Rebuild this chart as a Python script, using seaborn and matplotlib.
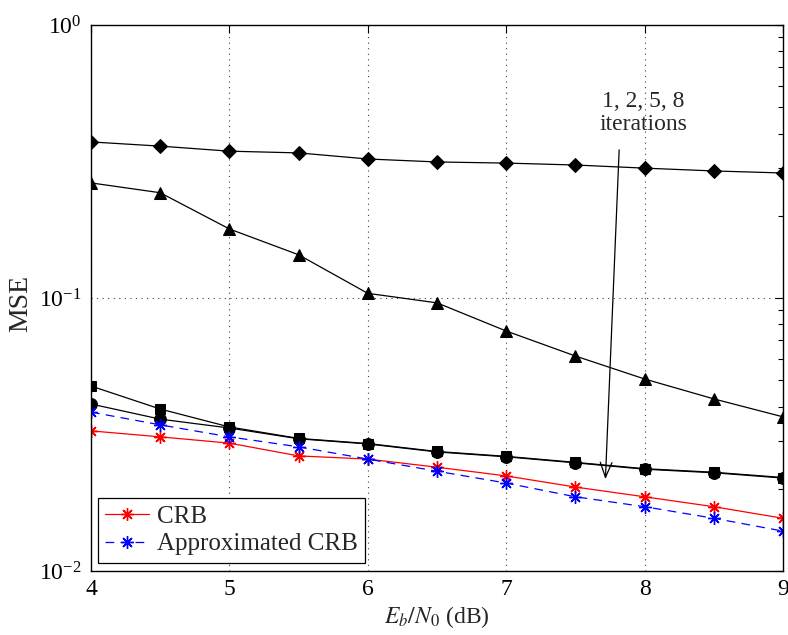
import numpy as np
import pandas as pd
import matplotlib
matplotlib.use("Agg")
import matplotlib.pyplot as plt
from matplotlib.ticker import LogLocator, NullFormatter, FixedLocator
import seaborn as sns

# Eb/N0 grid (dB)
snr_db = [4.0, 4.5, 5.0, 5.5, 6.0, 6.5, 7.0, 7.5, 8.0, 8.5, 9.0]

# MSE of the iterative estimator after 1, 2, 5 and 8 iterations
mse_iter1 = [0.373, 0.360, 0.345, 0.340, 0.323, 0.315, 0.312, 0.307, 0.299, 0.292, 0.287]
mse_iter2 = [0.264, 0.243, 0.179, 0.144, 0.104, 0.096, 0.0757, 0.0613, 0.0505, 0.0427, 0.0367]
mse_iter5 = [0.0476, 0.0392, 0.0337, 0.0306, 0.0293, 0.0274, 0.0263, 0.0250, 0.0237, 0.0230, 0.0220]
mse_iter8 = [0.0409, 0.0360, 0.0334, 0.0305, 0.0292, 0.0273, 0.0262, 0.0249, 0.0236, 0.0229, 0.0219]

# Cramer-Rao bounds
crb = [0.0326, 0.0310, 0.0294, 0.0264, 0.0257, 0.0240, 0.0223, 0.0203, 0.0187, 0.0172, 0.0156]
crb_approx = [0.0382, 0.0343, 0.0310, 0.0285, 0.0257, 0.0232, 0.0210, 0.0187, 0.0172, 0.0156, 0.0140]

x_ticks = [4, 5, 6, 7, 8, 9]
iter_label = "1, 2, 5, 8\niterations"

sns.set_theme(style="white")
plt.rcParams["font.family"] = ["Liberation Serif", "DejaVu Serif"]
plt.rcParams["mathtext.fontset"] = "stix"
plt.rcParams["xtick.direction"] = "in"
plt.rcParams["ytick.direction"] = "in"

FS = 17

fig = plt.figure(figsize=(7.88, 6.35), dpi=100)
ax = fig.add_axes([91 / 788, 1 - 571 / 635, (783 - 91) / 788, (571 - 25) / 635])

lw = 0.9
black_series = [
    (mse_iter1, "D", 7.5),
    (mse_iter2, "^", 8.5),
    (mse_iter5, "s", 6.5),
    (mse_iter8, "o", 8.5),
]
for vals, mk, ms in black_series:
    sns.lineplot(x=snr_db, y=vals, ax=ax, color="black", lw=lw,
                 marker=mk, markersize=ms, markeredgecolor="black",
                 markerfacecolor="black", legend=False)

asterisk = (8, 2, 0)
sns.lineplot(x=snr_db, y=crb, ax=ax, color="red", lw=lw, marker=asterisk,
             markersize=9, markeredgewidth=1.0, markeredgecolor="red",
             label="CRB")
sns.lineplot(x=snr_db, y=crb_approx, ax=ax, color="blue", lw=lw,
             linestyle=(0, (7, 5)), marker=asterisk, markersize=9,
             markeredgewidth=1.0, markeredgecolor="blue",
             label="Approximated CRB")

ax.set_yscale("log")
ax.set_xlim(4, 9)
ax.set_ylim(1e-2, 1)
ax.xaxis.set_major_locator(FixedLocator(x_ticks))
ax.yaxis.set_major_locator(LogLocator(base=10, numticks=10))
ax.yaxis.set_minor_locator(LogLocator(base=10, subs=np.arange(2, 10), numticks=20))
ax.yaxis.set_minor_formatter(NullFormatter())
ax.tick_params(which="both", top=True, right=True, labelsize=FS, colors="black")
ax.tick_params(which="major", length=6, width=0.8)
ax.tick_params(which="minor", length=3.5, width=0.8)
ax.tick_params(axis="x", pad=6)
ax.tick_params(axis="y", pad=7)

ax.grid(True, which="major", linestyle=(0, (1, 4)), color="#404040", lw=0.8)
for s in ax.spines.values():
    s.set_color("black")
    s.set_linewidth(1.0)

ax.set_xlabel("$E_b/N_0$ (dB)", fontsize=FS, labelpad=3)
ax.set_ylabel("MSE", fontsize=20)
ax.yaxis.set_label_coords(-0.084, 0.49)

ax.text(7.99, 0.475, iter_label, ha="center", va="center", fontsize=FS,
        linespacing=1.15)
ax.annotate("", xy=(7.716, 0.0212), xytext=(7.817, 0.357),
            arrowprops=dict(arrowstyle="->,head_length=0.9,head_width=0.35",
                            color="black", lw=0.9))

leg = ax.legend(loc="lower left", bbox_to_anchor=(0.0101, 0.0147),
                borderaxespad=0, fontsize=18, frameon=True, fancybox=False,
                framealpha=1, edgecolor="black", handlelength=1.75,
                handletextpad=0.3, borderpad=0.3, labelspacing=0.2)
leg.get_frame().set_linewidth(0.9)

fig.savefig("out.png", dpi=100)
